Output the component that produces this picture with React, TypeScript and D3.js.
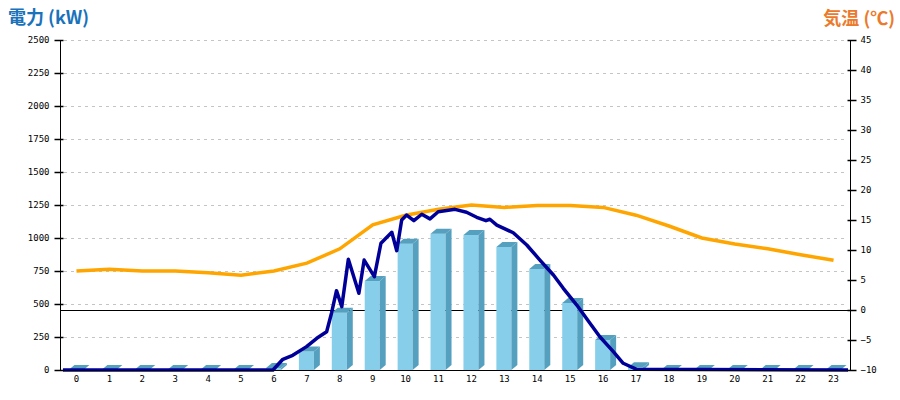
import React, { useEffect, useRef } from 'react';
import * as d3 from 'd3';

// hourly generated energy (bars), kW
const HOURS = d3.range(24).map(h => String(h));
const BAR_KW = [0, 0, 0, 0, 0, 0, 15, 140, 434, 674, 957, 1033, 1023, 932, 765, 508, 227, 20, 0, 0, 0, 0, 0, 0];

// hourly temperature, degC
const TEMP_C = [6.5, 6.8, 6.5, 6.5, 6.2, 5.8, 6.5, 7.8, 10.2, 14.2, 15.8, 16.8, 17.5, 17.1, 17.4, 17.4, 17.1, 15.8, 14.0, 12.0, 11.0, 10.2, 9.2, 8.3];

// instantaneous power line: time (hour) and kW
const POWER_T = [-0.41, 5.97, 6.27, 6.57, 6.99, 7.3, 7.6, 7.75, 7.9, 8.06, 8.26, 8.58, 8.74, 9.05, 9.25, 9.58, 9.73, 9.88, 10.03, 10.25, 10.49, 10.74, 10.99, 11.35, 11.5, 11.85, 12.16, 12.44, 12.56, 12.77, 13.27, 13.68, 14.08, 14.49, 14.79, 15.2, 15.6, 15.9, 16.31, 16.61, 17.02, 23.44];
const POWER_KW = [0, 0, 81, 111, 177, 240, 290, 432, 601, 480, 839, 581, 833, 707, 960, 1043, 904, 1136, 1174, 1131, 1180, 1145, 1199, 1212, 1217, 1195, 1157, 1131, 1142, 1098, 1040, 947, 833, 720, 619, 492, 354, 252, 139, 51, 5, 0];

const KW_TICKS = d3.range(0, 2501, 250);
const TEMP_TICKS = d3.range(-10, 46, 5);

const W = 900;
const H = 400;
const M = { top: 40, right: 50, bottom: 30, left: 60 };

const App: React.FC = () => {
  const ref = useRef<SVGSVGElement>(null);

  useEffect(() => {
    if (!ref.current) return;
    const svg = d3.select(ref.current);
    svg.selectAll('*').remove();

    const x0 = M.left;
    const x1 = W - M.right;
    const yTop = M.top;
    const yBot = H - M.bottom;

    const x = d3.scaleBand<string>().domain(HOURS).range([x0, x1]);
    const bw = x.bandwidth();
    const xt = d3.scaleLinear().domain([0, 23]).range([x0 + bw / 2, x1 - bw / 2]);
    const yKw = d3.scaleLinear().domain([0, 2500]).range([yBot, yTop]);
    const yT = d3.scaleLinear().domain([-10, 45]).range([yBot, yTop]);

    const mono = '"DejaVu Sans Mono", monospace';

    // grid
    svg.append('g')
      .selectAll('line')
      .data(KW_TICKS.filter(v => v > 0))
      .enter()
      .append('line')
      .attr('x1', x0 + 4)
      .attr('x2', x1 - 3)
      .attr('y1', d => yKw(d) + 0.5)
      .attr('y2', d => yKw(d) + 0.5)
      .attr('stroke', '#c4c4c4')
      .attr('stroke-dasharray', '3,4');

    // 0 degC line
    svg.append('line')
      .attr('x1', x0).attr('x2', x1)
      .attr('y1', Math.round(yT(0)) + 0.5).attr('y2', Math.round(yT(0)) + 0.5)
      .attr('stroke', '#000');

    // 3D bars
    const fw = 15, dx = 6, dy = 5;
    const bars = svg.append('g');
    BAR_KW.forEach((v, i) => {
      const c = (x(HOURS[i]) as number) + bw / 2;
      const l = c - 8;
      const r = l + fw;
      const t = yKw(v);
      if (v > 0) {
        bars.append('rect')
          .attr('x', l).attr('y', t).attr('width', fw).attr('height', yBot - t)
          .attr('fill', '#87ceeb');
        bars.append('path')
          .attr('d', `M${r},${t}L${r + dx},${t - dy}L${r + dx},${yBot - dy}L${r},${yBot}Z`)
          .attr('fill', '#56a0bf');
      }
      bars.append('path')
        .attr('d', `M${l},${t}L${l + dx},${t - dy}L${r + dx},${t - dy}L${r},${t}Z`)
        .attr('fill', '#56a0bf');
    });

    // temperature line
    const tLine = d3.line<number>()
      .x((_, i) => xt(i))
      .y(d => yT(d));
    svg.append('path')
      .datum(TEMP_C)
      .attr('fill', 'none')
      .attr('stroke', '#ffa500')
      .attr('stroke-width', 3.5)
      .attr('d', tLine);

    // power line
    const pLine = d3.line<number>()
      .x((_, i) => xt(POWER_T[i]))
      .y(d => yKw(d));
    svg.append('path')
      .datum(POWER_KW)
      .attr('fill', 'none')
      .attr('stroke', '#000099')
      .attr('stroke-width', 3.5)
      .attr('stroke-linejoin', 'round')
      .attr('d', pLine);

    // baseline
    svg.append('line')
      .attr('x1', x0).attr('x2', x1)
      .attr('y1', yBot + 0.5).attr('y2', yBot + 0.5)
      .attr('stroke', '#000');

    // left axis
    const gl = svg.append('g')
      .attr('transform', `translate(${x0 + 0.5},0)`)
      .call(d3.axisLeft(yKw).tickValues(KW_TICKS).tickFormat(d3.format('d')).tickSize(6).tickPadding(5));
    gl.select('.domain').attr('stroke', '#000').attr('d', `M0,${yTop}V${yBot}`);
    gl.selectAll('.tick line').attr('x1', 3).attr('x2', -6).attr('stroke-width', 1.5);
    gl.selectAll('.tick text').attr('font-family', mono).attr('font-size', 9).attr('fill', '#000');

    // right axis
    const gr = svg.append('g')
      .attr('transform', `translate(${x1 + 0.5},0)`)
      .call(d3.axisRight(yT).tickValues(TEMP_TICKS).tickSize(6).tickPadding(4));
    gr.select('.domain').attr('stroke', '#000').attr('d', `M0,${yTop}V${yBot}`);
    gr.selectAll('.tick line').attr('x1', -3).attr('x2', 6).attr('stroke-width', 1.5);
    gr.selectAll('.tick text').attr('font-family', mono).attr('font-size', 9).attr('fill', '#000');

    // x labels
    svg.append('g')
      .selectAll('text')
      .data(HOURS)
      .enter()
      .append('text')
      .attr('x', d => (x(d) as number) + bw / 2)
      .attr('y', yBot + 12)
      .attr('text-anchor', 'middle')
      .attr('font-family', mono)
      .attr('font-size', 9)
      .text(d => d);

    // titles
    svg.append('text')
      .attr('x', 8).attr('y', 24)
      .attr('font-family', '"Noto Sans CJK JP", sans-serif')
      .attr('font-weight', 'bold')
      .attr('font-size', 18)
      .attr('fill', '#1a72bb')
      .text('電力 (kW)');
    svg.append('text')
      .attr('x', 895).attr('y', 25)
      .attr('text-anchor', 'end')
      .attr('font-family', '"Noto Sans CJK JP", sans-serif')
      .attr('font-weight', 'bold')
      .attr('font-size', 18)
      .attr('fill', '#ec7a2c')
      .text('気温 (℃)');
  }, []);

  return (
    <div style={{ position: 'absolute', left: 0, top: 0 }}>
      <svg ref={ref} width={W} height={H} style={{ display: 'block', background: '#fff' }} />
    </div>
  );
};

export default App;
